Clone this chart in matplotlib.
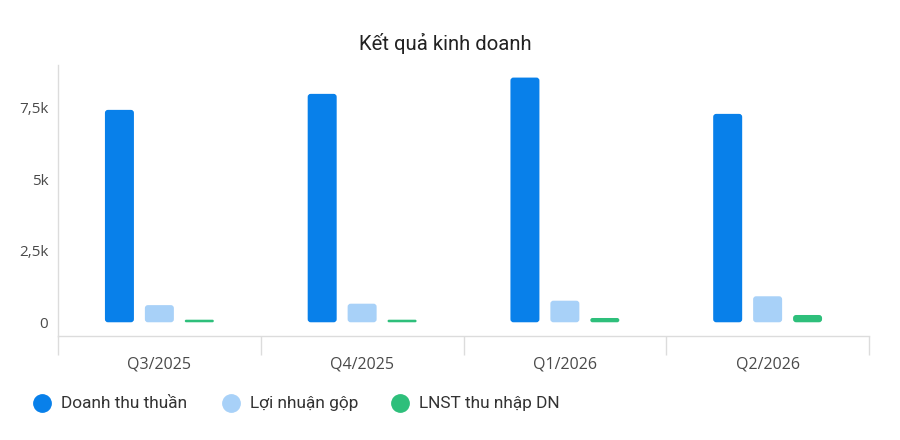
import matplotlib.pyplot as plt
import numpy as np
from matplotlib.patches import FancyBboxPatch
from matplotlib.lines import Line2D
from matplotlib.ticker import FuncFormatter

plt.rcParams['font.family'] = ['Roboto', 'DejaVu Sans']

# dữ liệu
quarters = ['Q3/2025', 'Q4/2025', 'Q1/2026', 'Q2/2026']
doanh_thu = [7430, 7990, 8560, 7290]
loi_nhuan_gop = [600, 650, 755, 910]
lnst = [90, 90, 150, 255]
series_names = ['Doanh thu thuần', 'Lợi nhuận gộp', 'LNST thu nhập DN']
colors = ['#0880ea', '#a8d1f8', '#2ebf7b']

W, H = 900, 440
fig = plt.figure(figsize=(9, 4.4), dpi=100)
ax = fig.add_axes([58 / W, (H - 336) / H, (869 - 58) / W, (336 - 65) / H])

x = np.arange(len(quarters))
width = 0.143
offsets = [-0.197, 0, 0.197]

ax.set_xlim(-0.5, 3.5)
ax.set_ylim(-480, 9000)

# kích thước 1 pixel theo đơn vị dữ liệu
px_x = 4 / 811
px_y = 9480 / 271
aspect = px_y / px_x

for vals, off, col in zip([doanh_thu, loi_nhuan_gop, lnst], offsets, colors):
    for xi, v in zip(x, vals):
        h_x = v / aspect
        r = min(3 * px_x, width / 2, h_x / 2)
        p = FancyBboxPatch((xi + off - width / 2, 0), width, v,
                           boxstyle=f'round,pad=0,rounding_size={r}',
                           mutation_aspect=aspect, fc=col, ec='none')
        ax.add_patch(p)

for s in ['top', 'right']:
    ax.spines[s].set_visible(False)
for s in ['left', 'bottom']:
    ax.spines[s].set_color('#dcdcdc')
    ax.spines[s].set_linewidth(1)

tick_font = ['Open Sans', 'DejaVu Sans']
ax.set_yticks([0, 2500, 5000, 7500])
ax.yaxis.set_major_formatter(FuncFormatter(
    lambda v, p: '0' if v == 0 else (f'{v / 1000:g}k').replace('.', ',')))
ax.tick_params(axis='y', length=0, pad=7, labelsize=11, labelcolor='#4a4a4a')

ax.set_xticks(x)
ax.set_xticklabels(quarters)
ax.set_xticks(np.arange(-0.5, 4, 1), minor=True)
ax.tick_params(axis='x', which='major', length=0, pad=15, labelsize=11.5, labelcolor='#4a4a4a')
ax.tick_params(axis='x', which='minor', length=14, color='#dcdcdc', width=1)
for lab in ax.get_xticklabels() + ax.get_yticklabels():
    lab.set_family(tick_font)

fig.text(445 / W, 1 - 43 / H, 'Kết quả kinh doanh', ha='center', va='center',
         fontsize=14.6, color='#222222')

# chú thích
legend_circle_x = [42, 231, 400]
for cx, name, col in zip(legend_circle_x, series_names, colors):
    fig.add_artist(Line2D([cx / W], [1 - 403 / H], transform=fig.transFigure,
                          marker='o', linestyle='none', markersize=12.5,
                          markerfacecolor=col, markeredgecolor=col))
    fig.text((cx + 19) / W, 1 - 403 / H, name, ha='left', va='center',
             fontsize=12.4, color='#333333')

fig.savefig('out.png', dpi=100)
